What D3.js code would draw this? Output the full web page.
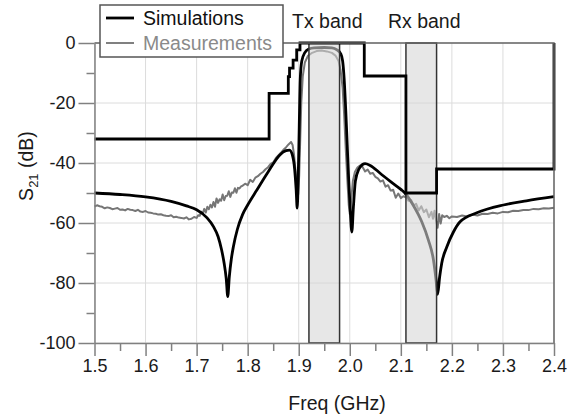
<!DOCTYPE html>
<html>
<head>
<meta charset="utf-8">
<script src="https://cdn.jsdelivr.net/npm/d3@7"></script>
<style>
  body { margin: 0; background: #fff; }
  svg { display: block; font-family: 'Liberation Sans', Arial, sans-serif; }
</style>
</head>
<body>
<svg id="chart" width="568" height="418"></svg>
<script>
const freqTicks = [1.5, 1.6, 1.7, 1.8, 1.9, 2.0, 2.1, 2.2, 2.3, 2.4];
const freqMinor = [1.55, 1.65, 1.75, 1.85, 1.95, 2.05, 2.15, 2.25, 2.35];
const dbTicks = [0, -20, -40, -60, -80, -100];
const dbMinor = [-10, -30, -50, -70, -90];

const txBand = [1.92, 1.98];
const rxBand = [2.11, 2.17];

// spec mask, step after each point
const maskFreq = [1.5, 1.842, 1.8796, 1.882, 1.889, 1.896, 1.9025, 2.0284, 2.11, 2.17, 2.4];
const maskDb = [-32, -16.8, -11.2, -8.4, -5.7, -2.3, 0, -11, -50, -42, 0];

const simFreq = [1.50, 1.55, 1.60, 1.65, 1.68, 1.70, 1.72, 1.733, 1.742, 1.749, 1.754, 1.758, 1.761,
  1.764, 1.768, 1.772, 1.78, 1.79, 1.80, 1.818, 1.84, 1.863, 1.875, 1.882, 1.888, 1.892, 1.895, 1.897,
  1.899, 1.901, 1.903, 1.906, 1.912, 1.92, 1.93, 1.95, 1.965, 1.975, 1.982, 1.986, 1.989, 1.992, 1.995,
  1.998, 2.001, 2.004, 2.007, 2.011, 2.018, 2.025, 2.03, 2.04, 2.06, 2.08, 2.10, 2.108, 2.124, 2.141,
  2.154, 2.164, 2.169, 2.172, 2.176, 2.180, 2.19, 2.203, 2.216, 2.249, 2.301, 2.346, 2.40];
const simDb = [-50.0, -50.5, -51.3, -52.8, -54.3, -55.6, -58.2, -61.2, -64.5, -69, -73.5, -78.5, -84.5,
  -78, -72, -67.9, -62, -57.2, -54, -49, -43, -37.3, -35.9, -35.7, -37.6, -42, -49, -55,
  -45, -28, -12, -6, -3.2, -2.0, -1.6, -1.5, -1.6, -2.3, -3.5, -6, -12, -22, -34,
  -46, -56, -63, -55, -46, -42, -40.5, -40.2, -40.8, -43.5, -46.2, -48.8, -50, -54, -59.6,
  -65.7, -72.4, -79, -83.8, -78, -73.5, -68, -63, -59.6, -56.6, -54, -52.6, -51.2];

const measFreq = [1.500, 1.505, 1.510, 1.515, 1.520, 1.525, 1.530, 1.535, 1.540, 1.545, 1.550, 1.555,
  1.560, 1.565, 1.570, 1.575, 1.580, 1.585, 1.590, 1.595, 1.600, 1.605, 1.610, 1.615, 1.620, 1.625,
  1.630, 1.635, 1.640, 1.645, 1.650, 1.655, 1.660, 1.665, 1.670, 1.675, 1.680, 1.685, 1.690, 1.695,
  1.700, 1.703, 1.706, 1.709, 1.712, 1.715, 1.718, 1.721, 1.724, 1.727, 1.730, 1.733, 1.736, 1.739,
  1.742, 1.745, 1.748, 1.751, 1.754, 1.757, 1.760, 1.763, 1.766, 1.769, 1.772, 1.775, 1.778, 1.781,
  1.784, 1.787, 1.790, 1.795, 1.800, 1.805, 1.810, 1.815, 1.820, 1.825, 1.830, 1.835, 1.840, 1.845,
  1.850, 1.855, 1.860, 1.865, 1.870, 1.875, 1.880, 1.885, 1.888, 1.891, 1.894, 1.897, 1.899, 1.901,
  1.903, 1.905, 1.908, 1.912, 1.918, 1.925, 1.935, 1.945, 1.955, 1.965, 1.972, 1.978, 1.982, 1.986,
  1.989, 1.992, 1.995, 1.998, 2.000, 2.003, 2.006, 2.010, 2.015, 2.020, 2.025, 2.030, 2.035, 2.040,
  2.045, 2.050, 2.055, 2.060, 2.065, 2.070, 2.075, 2.080, 2.085, 2.090, 2.095, 2.100, 2.105, 2.110,
  2.115, 2.120, 2.125, 2.130, 2.135, 2.140, 2.145, 2.150, 2.155, 2.160, 2.163, 2.166, 2.169, 2.172,
  2.175, 2.178, 2.181, 2.185, 2.190, 2.195, 2.200, 2.210, 2.220, 2.230, 2.240, 2.250, 2.260, 2.270,
  2.280, 2.290, 2.300, 2.310, 2.320, 2.330, 2.340, 2.350, 2.360, 2.370, 2.380, 2.390, 2.400];
const measDb = [-54.5, -54.1, -54.4, -54.6, -55.1, -54.8, -55.0, -55.4, -55.2, -55.0, -55.6, -55.5,
  -55.8, -55.3, -55.6, -55.7, -56.0, -55.6, -56.2, -56.3, -56.0, -56.5, -56.6, -56.8, -56.9, -57.2,
  -57.1, -57.4, -57.6, -57.7, -57.4, -58.1, -57.9, -58.2, -58.3, -58.5, -58.1, -58.8, -58.6, -58.0,
  -58.3, -57.4, -57.6, -56.2, -56.8, -55.3, -56.5, -54.6, -55.4, -53.9, -54.8, -53.0, -54.6, -51.8,
  -53.3, -52.1, -52.6, -50.5, -52.4, -51.0, -50.9, -49.4, -51.3, -49.8, -49.9, -48.4, -49.9, -48.3,
  -48.5, -47.8, -47.6, -46.9, -47.4, -45.6, -46.3, -44.9, -44.4, -43.6, -43.0, -42.1, -41.4, -40.3,
  -39.8, -38.4, -37.5, -36.6, -35.6, -34.8, -33.8, -33.0, -34.0, -37.5, -43, -49, -50.5, -44,
  -32, -20, -11, -6.5, -4.3, -3.4, -2.7, -2.5, -2.8, -3.3, -4.2, -6, -9, -15,
  -24, -35, -45, -54, -57, -52, -46, -43, -41.5, -40.8, -41.3, -42.8, -42.2, -43.6,
  -43.3, -44.6, -45.1, -46.2, -45.8, -47.9, -47.4, -49.2, -48.9, -51.6, -50.2, -51.7, -51.1, -51.4,
  -52.6, -52.3, -54.1, -53.6, -55.8, -54.4, -56.4, -55.5, -58.1, -56.3, -58.6, -55.9, -59.2, -61.6,
  -57.0, -60.2, -57.4, -58.0, -57.6, -58.4, -57.8, -58.0, -57.5, -57.8, -57.2, -57.5, -56.9, -57.0,
  -56.6, -56.8, -56.3, -56.4, -55.9, -56.0, -55.7, -55.7, -55.3, -55.4, -55.1, -55.2, -54.9];

const svg = d3.select('#chart');
const plotLeft = 94.5, plotRight = 554, plotTop = 43, plotBottom = 343;

const x = d3.scaleLinear().domain([1.5, 2.4]).range([plotLeft, plotRight]);
const y = d3.scaleLinear().domain([-100, 0]).range([plotBottom, plotTop]);

const zip = (fs, vs) => fs.map((f, i) => [f, vs[i]]);

// grid
svg.append('g').selectAll('line')
  .data(freqTicks).enter().append('line')
  .attr('x1', d => x(d)).attr('x2', d => x(d))
  .attr('y1', plotTop).attr('y2', plotBottom)
  .attr('stroke', '#dcdcdc').attr('stroke-width', 1);
svg.append('g').selectAll('line')
  .data(dbTicks).enter().append('line')
  .attr('x1', plotLeft).attr('x2', plotRight)
  .attr('y1', d => y(d)).attr('y2', d => y(d))
  .attr('stroke', '#dcdcdc').attr('stroke-width', 1);

svg.append('path')
  .datum(zip(measFreq, measDb))
  .attr('d', d3.line().x(d => x(d[0])).y(d => y(d[1])))
  .attr('fill', 'none')
  .attr('stroke', '#767676')
  .attr('stroke-width', 2)
  .attr('stroke-linejoin', 'round');

svg.append('path')
  .datum(zip(simFreq, simDb))
  .attr('d', d3.line().x(d => x(d[0])).y(d => y(d[1])).curve(d3.curveMonotoneX))
  .attr('fill', 'none')
  .attr('stroke', '#000')
  .attr('stroke-width', 2.8);

// band overlays, drawn on top of the traces
svg.append('g').selectAll('rect')
  .data([txBand, rxBand]).enter().append('rect')
  .attr('x', d => x(d[0]))
  .attr('width', d => x(d[1]) - x(d[0]))
  .attr('y', y(0))
  .attr('height', y(-100) - y(0))
  .attr('fill', '#d6d6d6')
  .attr('fill-opacity', 0.58)
  .attr('stroke', '#333')
  .attr('stroke-width', 1.5);

// mask
svg.append('path')
  .datum(zip(maskFreq, maskDb))
  .attr('d', d3.line().x(d => x(d[0])).y(d => y(d[1])).curve(d3.curveStepAfter))
  .attr('fill', 'none')
  .attr('stroke', '#000')
  .attr('stroke-width', 2.8);

// frame top/right
svg.append('path')
  .attr('d', `M${plotLeft},${plotTop}H${plotRight}V${plotBottom}`)
  .attr('fill', 'none')
  .attr('stroke', '#666')
  .attr('stroke-width', 1.5);

// axes
svg.append('g')
  .attr('transform', `translate(${plotLeft},0)`)
  .call(d3.axisLeft(y).tickValues(dbTicks).tickSize(16).tickSizeOuter(0).tickPadding(3)
    .tickFormat(d => String(d)));
svg.append('g')
  .attr('transform', `translate(${plotLeft},0)`)
  .call(d3.axisLeft(y).tickValues(dbMinor).tickSize(8).tickSizeOuter(0).tickFormat(''))
  .select('.domain').remove();

svg.append('g')
  .attr('transform', `translate(0,${plotBottom})`)
  .call(d3.axisBottom(x).tickValues(freqTicks).tickSize(13).tickSizeOuter(0).tickPadding(3)
    .tickFormat(d => d.toFixed(1)));
svg.append('g')
  .attr('transform', `translate(0,${plotBottom})`)
  .call(d3.axisBottom(x).tickValues(freqMinor).tickSize(8).tickSizeOuter(0).tickFormat(''))
  .select('.domain').remove();

svg.selectAll('.domain, .tick line')
  .attr('stroke', '#808080')
  .attr('stroke-width', 1.5);
svg.selectAll('.tick text')
  .attr('font-size', 18)
  .attr('font-family', "'Liberation Sans', Arial, sans-serif")
  .attr('fill', '#1a1a1a');

// axis titles
const yTitle = svg.append('text')
  .attr('transform', 'translate(33,166) rotate(-90)')
  .attr('text-anchor', 'middle')
  .attr('font-size', 19.5)
  .attr('fill', '#1a1a1a');
yTitle.append('tspan').text('S');
yTitle.append('tspan').attr('font-size', 13).attr('dy', 5).text('21');
yTitle.append('tspan').attr('dy', -5).text(' (dB)');

svg.append('text')
  .attr('x', 337).attr('y', 410)
  .attr('text-anchor', 'middle')
  .attr('font-size', 19.5)
  .attr('fill', '#1a1a1a')
  .text('Freq (GHz)');

// band labels
svg.append('g').selectAll('text')
  .data([{band: txBand, label: 'Tx band'}, {band: rxBand, label: 'Rx band'}])
  .enter().append('text')
  .attr('x', d => x((d.band[0] + d.band[1]) / 2) + 3)
  .attr('y', 28)
  .attr('text-anchor', 'middle')
  .attr('font-size', 19.5)
  .attr('fill', '#1a1a1a')
  .text(d => d.label);

// legend
const legend = svg.append('g');
legend.append('rect')
  .attr('x', 100).attr('y', 5)
  .attr('width', 183).attr('height', 52)
  .attr('fill', '#fff')
  .attr('stroke', '#555')
  .attr('stroke-width', 1.5);
const items = [
  {label: 'Simulations', color: '#000', text: '#111', w: 2.8, yy: 18},
  {label: 'Measurements', color: '#808080', text: '#8a8a8a', w: 2, yy: 43}
];
items.forEach(it => {
  legend.append('line')
    .attr('x1', 106).attr('x2', 134)
    .attr('y1', it.yy).attr('y2', it.yy)
    .attr('stroke', it.color)
    .attr('stroke-width', it.w);
  legend.append('text')
    .attr('x', 143).attr('y', it.yy + 7)
    .attr('font-size', 19.5)
    .attr('fill', it.text)
    .text(it.label);
});
</script>
</body>
</html>
